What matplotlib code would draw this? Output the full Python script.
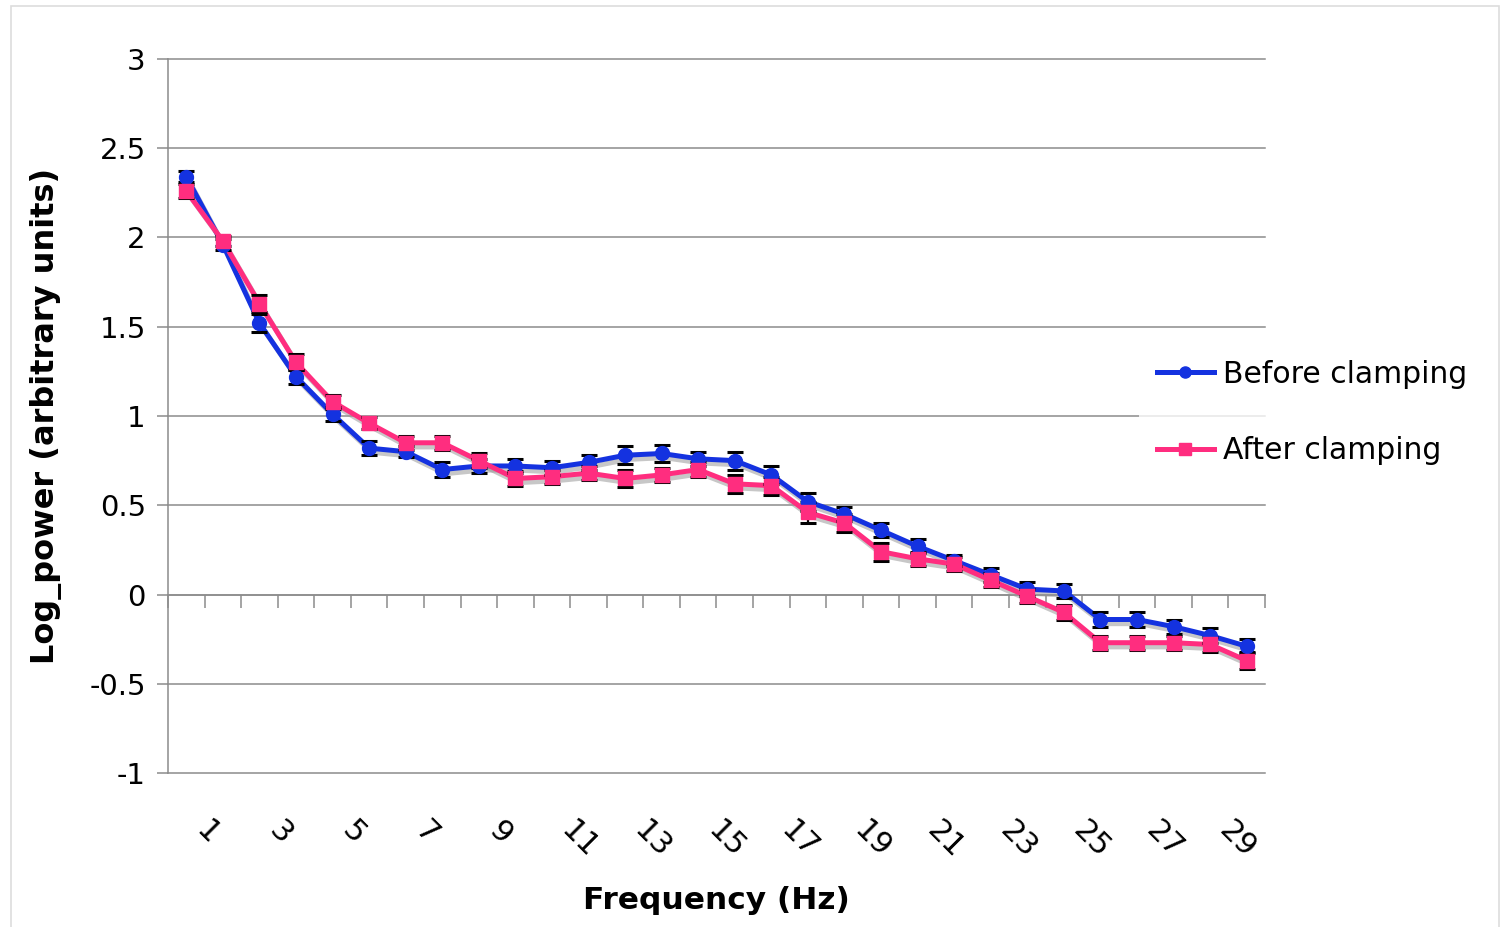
import numpy as np
import matplotlib.pyplot as plt
import matplotlib.patheffects as pe
import matplotlib.transforms as mtransforms
from matplotlib.patches import Rectangle

# Frequency bins 1..30 Hz
freqs = list(range(1, 31))

before = [2.34, 1.96, 1.52, 1.22, 1.01, 0.82, 0.80, 0.70, 0.72, 0.72,
          0.71, 0.74, 0.78, 0.79, 0.76, 0.75, 0.67, 0.52, 0.45, 0.36,
          0.27, 0.19, 0.11, 0.03, 0.02, -0.14, -0.14, -0.18, -0.23, -0.29]
before_err = [0.03, 0.03, 0.05, 0.04, 0.04, 0.04, 0.03, 0.04, 0.04, 0.04,
              0.04, 0.04, 0.05, 0.05, 0.04, 0.05, 0.05, 0.05, 0.04, 0.04,
              0.04, 0.03, 0.04, 0.04, 0.04, 0.04, 0.04, 0.04, 0.04, 0.04]

after = [2.26, 1.98, 1.63, 1.30, 1.08, 0.96, 0.85, 0.85, 0.75, 0.65,
         0.66, 0.68, 0.65, 0.67, 0.70, 0.62, 0.61, 0.46, 0.40, 0.24,
         0.20, 0.17, 0.08, -0.01, -0.10, -0.27, -0.27, -0.27, -0.28, -0.37]
after_err = [0.04, 0.03, 0.045, 0.045, 0.04, 0.035, 0.04, 0.04, 0.04, 0.04,
             0.04, 0.04, 0.05, 0.04, 0.04, 0.05, 0.05, 0.06, 0.05, 0.05,
             0.04, 0.04, 0.04, 0.04, 0.04, 0.04, 0.04, 0.04, 0.04, 0.05]

y_ticks = [-1, -0.5, 0, 0.5, 1, 1.5, 2, 2.5, 3]
y_tick_labels = ['-1', '-0.5', '0', '0.5', '1', '1.5', '2', '2.5', '3']

BLUE = '#1432e0'
PINK = '#ff2d7f'
GRID = '#8c8c8c'

fig = plt.figure(figsize=(15.03, 9.27), dpi=100)
fig.patches.append(Rectangle((0.0073, -0.01), 0.99, 1.004, transform=fig.transFigure,
                             fill=False, edgecolor='#dddddd', linewidth=1.2))
ax = fig.add_axes([0.1118, 0.1661, 0.7298, 0.7703])

ax.set_xlim(0.5, 30.5)
ax.set_ylim(-1, 3)

# horizontal gridlines
for yv in y_ticks:
    ax.axhline(yv, color=GRID, linewidth=1.1, zorder=0, clip_on=False)

shadow = [pe.SimpleLineShadow(offset=(2, -3), shadow_color='#999999', alpha=0.55),
          pe.Normal()]

for vals, errs, color, marker, ms in [
        (before, before_err, BLUE, 'o', 10),
        (after, after_err, PINK, 's', 10)]:
    ax.plot(freqs, vals, color=color, linewidth=3.6, zorder=3,
            path_effects=shadow)
    ax.errorbar(freqs, vals, yerr=errs, fmt='none', ecolor='black',
                elinewidth=1.6, capsize=6, capthick=2.2, zorder=4)
    ax.plot(freqs, vals, linestyle='none', marker=marker, markersize=ms,
            color=color, zorder=5)

# spines
for s in ['top', 'right', 'bottom']:
    ax.spines[s].set_visible(False)
ax.spines['left'].set_color(GRID)
ax.spines['left'].set_linewidth(1.1)

ax.set_yticks(y_ticks)
ax.set_yticklabels(y_tick_labels)
ax.tick_params(axis='y', length=8, width=1.1, color=GRID, labelsize=21, pad=8)

# category labels at odd frequencies
odd = freqs[::2]
ax.set_xticks(odd)
ax.set_xticklabels([str(f) for f in odd], rotation=-45, ha='left',
                   va='center', rotation_mode='anchor', fontsize=22)
ax.tick_params(axis='x', length=0, pad=38)
shift = mtransforms.ScaledTranslation(14 / 100, 0, fig.dpi_scale_trans)
for lbl in ax.get_xticklabels():
    lbl.set_transform(lbl.get_transform() + shift)

# zero axis with category boundary ticks
zero_ax = ax.secondary_xaxis(0.25)
zero_ax.set_xticks(np.arange(0.5, 31, 1.0))
zero_ax.set_xticklabels([])
zero_ax.tick_params(axis='x', length=9, width=1.1, color=GRID, direction='out')
zero_ax.spines['bottom'].set_color(GRID)
zero_ax.spines['bottom'].set_linewidth(1.1)

ax.set_xlabel('Frequency (Hz)', fontsize=22.5, fontweight='bold', labelpad=16)
ax.set_ylabel('Log_power (arbitrary units)', fontsize=23, fontweight='bold',
              labelpad=20)

leg = ax.legend(
    [plt.Line2D([], [], color=BLUE, linewidth=3.6, marker='o', markersize=8),
     plt.Line2D([], [], color=PINK, linewidth=3.6, marker='s', markersize=8)],
    ['Before clamping', 'After clamping'],
    loc='center left', bbox_to_anchor=(0.748, 0.555), bbox_transform=fig.transFigure,
    frameon=True, fontsize=21.5, handlelength=1.9, handletextpad=0.3,
    labelspacing=1.6, borderpad=0.6)
leg.get_frame().set_facecolor('white')
leg.get_frame().set_edgecolor('none')
leg.set_zorder(10)

fig.savefig('out.png', dpi=100)
